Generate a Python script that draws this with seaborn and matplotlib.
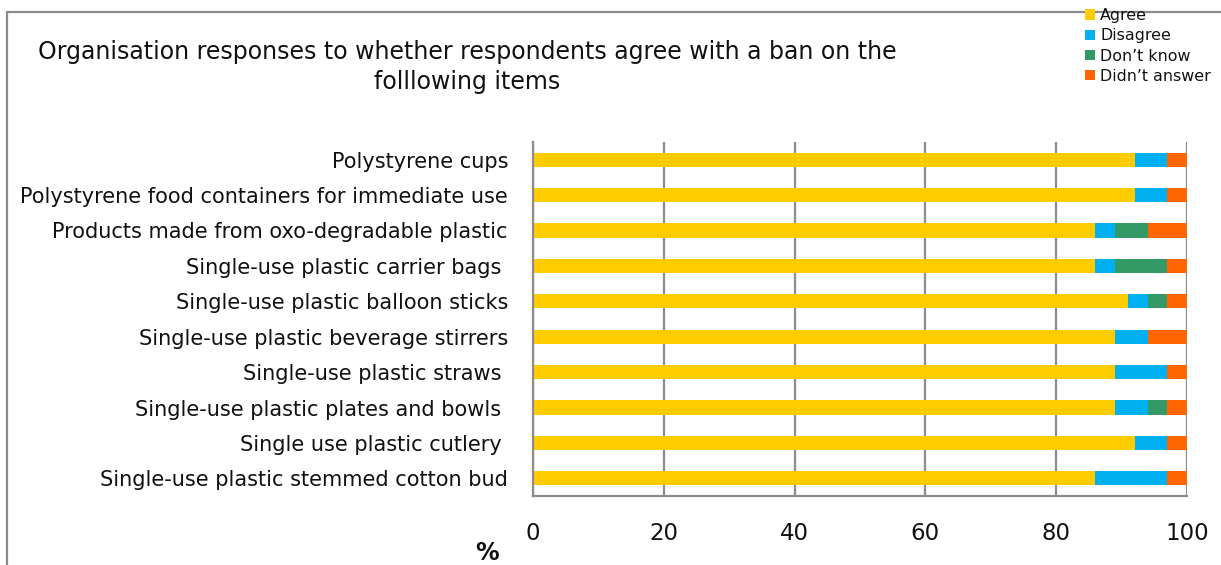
import matplotlib
matplotlib.use("Agg")
import matplotlib.pyplot as plt
import seaborn as sns
import pandas as pd
import numpy as np
from matplotlib.patches import Patch
from matplotlib.lines import Line2D

categories = [
    "Polystyrene cups",
    "Polystyrene food containers for immediate use",
    "Products made from oxo-degradable plastic",
    "Single-use plastic carrier bags ",
    "Single-use plastic balloon sticks",
    "Single-use plastic beverage stirrers",
    "Single-use plastic straws ",
    "Single-use plastic plates and bowls ",
    "Single use plastic cutlery ",
    "Single-use plastic stemmed cotton bud",
]
agree = [92, 92, 86, 86, 91, 89, 89, 89, 92, 86]
disagree = [5, 5, 3, 3, 3, 5, 8, 5, 5, 11]
dont_know = [0, 0, 5, 8, 3, 0, 0, 3, 0, 0]
didnt_answer = [3, 3, 6, 3, 3, 6, 3, 3, 3, 3]

series_names = ["Agree", "Disagree", "Don\u2019t know", "Didn\u2019t answer"]
colors = ["#FFCC00", "#00B0F0", "#339966", "#FF6600"]
xticks = [0, 20, 40, 60, 80, 100]

df = pd.DataFrame({
    "item": categories,
    series_names[0]: agree,
    series_names[1]: disagree,
    series_names[2]: dont_know,
    series_names[3]: didnt_answer,
})
cum = df[series_names].cumsum(axis=1)

sns.set_style("white")
plt.rcParams["font.family"] = ["DejaVu Sans"]

W, H = 1221, 565
fig = plt.figure(figsize=(W / 100, H / 100), dpi=100)
ax = fig.add_axes([533 / W, 1 - 496 / H, (1187 - 533) / W, (496 - 142) / H])

# stacked bars: draw cumulative totals from the outermost inwards
for name, col in reversed(list(zip(series_names, colors))):
    sns.barplot(x=cum[name], y=df["item"], orient="h", color=col,
                width=0.4, ax=ax, saturation=1, linewidth=0)

ax.set_xlim(0, 100)
ax.set_xticks(xticks)
ax.set_xticklabels([str(t) for t in xticks])
ax.set_xlabel("")
ax.set_ylabel("")
ax.set_axisbelow(True)
ax.grid(axis="x", color="#8c8c8c", linewidth=1.6)
ax.grid(axis="y", visible=False)

for s in ["top", "right"]:
    ax.spines[s].set_visible(False)
for s in ["left", "bottom"]:
    ax.spines[s].set_color("#8c8c8c")
    ax.spines[s].set_linewidth(1.6)

n = len(categories)
ax.set_ylim(n - 0.5, -0.5)
ax.set_yticks(np.arange(-0.5, n, 1.0), minor=True)
ax.tick_params(axis="y", which="major", length=0, pad=18, labelsize=15.0, labelcolor="#111111")
ax.tick_params(axis="y", which="minor", length=5, width=1.6, color="#8c8c8c", direction="out")
ax.tick_params(axis="x", which="major", length=7, width=1.6, color="#8c8c8c",
               direction="out", pad=12, labelsize=16.5, labelcolor="#111111")

fig.text(467 / W, 1 - 67 / H,
         "Organisation responses to whether respondents agree with a ban on the\nfolllowing items",
         ha="center", va="center", fontsize=17, color="#111111", linespacing=1.35)

fig.text(487 / W, 1 - 553 / H, "%", ha="center", va="center",
         fontsize=17, fontweight="bold", color="#111111")

handles = [Patch(facecolor=c, edgecolor="none") for c in colors]
leg = fig.legend(handles, series_names, loc="upper left",
                 bbox_to_anchor=(1074 / W, 1 + 3 / H), frameon=False,
                 fontsize=11.4, handlelength=0.6, handleheight=0.6,
                 handletextpad=0.35, labelspacing=0.33, borderpad=0.2)
for t in leg.get_texts():
    t.set_color("#111111")

# outer chart border (left and top)
fig.add_artist(Line2D([7 / W, 7 / W], [0, 1 - 12 / H], transform=fig.transFigure,
                      color="#8c8c8c", linewidth=1.6))
fig.add_artist(Line2D([7 / W, 1], [1 - 12 / H, 1 - 12 / H], transform=fig.transFigure,
                      color="#8c8c8c", linewidth=1.6))

fig.savefig("out.png", dpi=100)
